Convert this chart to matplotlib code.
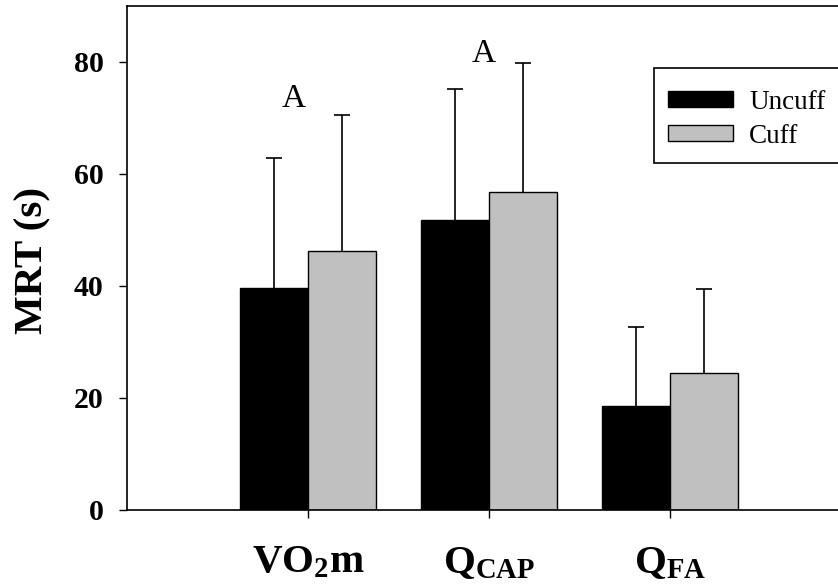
import numpy as np
import matplotlib
matplotlib.use('Agg')
import matplotlib.pyplot as plt
from matplotlib.patches import Rectangle

plt.rcParams['font.family'] = ['Liberation Serif', 'DejaVu Serif']
plt.rcParams['mathtext.fontset'] = 'custom'
plt.rcParams['mathtext.rm'] = 'Liberation Serif'
plt.rcParams['mathtext.bf'] = 'Liberation Serif:bold'

# data
groups      = [r'$\mathbf{VO_{2}m}$', r'$\mathbf{Q_{CAP}}$', r'$\mathbf{Q_{FA}}$']
uncuff      = [39.6, 51.7, 18.6]
uncuff_err  = [23.3, 23.4, 14.1]
cuff        = [46.3, 56.7, 24.5]
cuff_err    = [24.2, 23.2, 15.0]
sig_marks   = ['A', 'A']
sig_x       = [0.92, 1.97]
sig_y       = [71.9, 80.0]

x  = np.arange(1, len(groups) + 1)
bw = 0.376

fig = plt.figure(figsize=(8.38, 5.84), dpi=100)
ax  = fig.add_axes([127/838, 74/584, 724/838, 504/584])

ax.bar(x - bw/2, uncuff, bw, color='black', edgecolor='black', lw=1, label='Uncuff', zorder=2)
ax.bar(x + bw/2, cuff, bw, color='#c0c0c0', edgecolor='black', lw=1, label='Cuff', zorder=2)

# upper error bars only
for xs, ys, es in [(x - bw/2, uncuff, uncuff_err), (x + bw/2, cuff, cuff_err)]:
    eb = ax.errorbar(xs, ys, yerr=[np.zeros(3), es], fmt='none', ecolor='black',
                     elinewidth=1.2, capsize=5.5, capthick=1.2, zorder=1)
    eb[1][0].set_visible(False)

for s, sx, sy in zip(sig_marks, sig_x, sig_y):
    ax.text(sx, sy, s, fontsize=24, ha='center', va='baseline')

ax.set_xlim(0, 4)
ax.set_ylim(0, 90)
ax.set_yticks([0, 20, 40, 60, 80])
ax.set_xticks(x)
ax.set_xticklabels(groups, fontsize=29.5)
for t in ax.get_yticklabels():
    t.set_fontweight('bold')
    t.set_fontsize(21.5)
ax.tick_params(axis='y', direction='out', length=6, width=1, pad=11)
ax.tick_params(axis='x', direction='out', length=6, width=1, pad=19)
for sp in ax.spines.values():
    sp.set_linewidth(1.2)

fig.text(33/838, 1 - 260/584, 'MRT (s)', rotation=90, fontsize=29.5, fontweight='bold',
         ha='center', va='center')

# legend box drawn separately, it runs off the right edge like the original
box = Rectangle((654/838, 1 - 163/584), 200/838, 95/584, transform=fig.transFigure,
                facecolor='white', edgecolor='black', lw=1.2, zorder=3, clip_on=False)
ax.add_patch(box)
leg = ax.legend(loc='upper left', bbox_to_anchor=(0.7472, 0.834), fontsize=19.5,
                frameon=False, handlelength=2.4, handleheight=0.55, handletextpad=0.6,
                borderpad=0, labelspacing=0.34, borderaxespad=0)
leg.set_zorder(5)

fig.savefig('out.png', dpi=100)
